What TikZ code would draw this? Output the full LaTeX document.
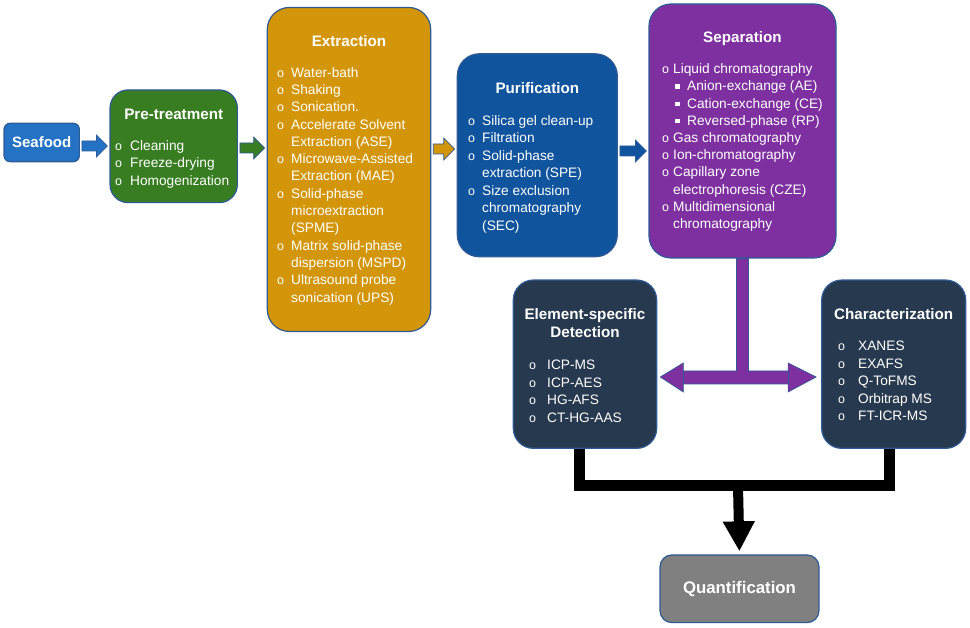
\documentclass[tikz,border=0pt]{standalone}
\usepackage{fontspec}
\setmainfont{Liberation Sans}
\usetikzlibrary{arrows.meta,calc}
\definecolor{seaB}{RGB}{35,114,196}
\definecolor{preG}{RGB}{57,125,34}
\definecolor{extG}{RGB}{211,150,10}
\definecolor{purB}{RGB}{16,84,158}
\definecolor{sepP}{RGB}{126,48,160}
\definecolor{darkS}{RGB}{39,57,78}
\definecolor{quantG}{RGB}{128,128,128}
\definecolor{bord}{RGB}{46,90,150}
\newcommand\bull{{\fontsize{12.5}{12.5}\selectfont o}}
\newcommand\bitem[2][14pt]{\makebox[#1][l]{\bull}#2}
\newcommand\bcont[2][14pt]{\hspace*{#1}#2}
\newcommand\bsub[1]{\hspace*{13pt}\makebox[12pt][l]{\raisebox{1.8pt}{\rule{4.6pt}{4.6pt}}}#1}
\newcommand\harrow[4]{\filldraw[fill=#3, draw=bord, line width=0.7pt] let \p1=(#1.east), \p2=(#2.west) in
  (\x1+2pt,#4pt+5pt) -- (\x2-13pt,#4pt+5pt) -- (\x2-13pt,#4pt+11pt) -- (\x2-2pt,#4pt) --
  (\x2-13pt,#4pt-11pt) -- (\x2-13pt,#4pt-5pt) -- (\x1+2pt,#4pt-5pt) -- cycle;}
\tikzset{
  box/.style={draw=bord, line width=1.2pt, rounded corners=20pt, inner sep=0pt},
  ttl/.style={text=white, inner sep=0pt, font=\bfseries\fontsize{15.2}{17.7}\selectfont, align=center},
  lst/.style={text=white, inner sep=0pt, anchor=north west, align=left, font=\fontsize{13.7}{#1}\selectfont},
  lst/.default=17.4,
  blk/.style={line width=11pt, black, line join=miter},
}
\begin{document}
\begin{tikzpicture}[x=1pt,y=1pt]
\useasboundingbox (0,0) rectangle (970,628);
% boxes
\node[box, rounded corners=6pt, fill=seaB, minimum width=75.3pt, minimum height=38.4pt, text=white, font=\bfseries\fontsize{15}{17}\selectfont] (sea) at (41.7,485.5) {Seafood};
\node[box, rounded corners=18pt, fill=preG, minimum width=127.3pt, minimum height=112.7pt] (pre) at (173.7,481.7) {};
\node[box, rounded corners=22pt, fill=extG, minimum width=163.4pt, minimum height=324pt] (ext) at (349,458.5) {};
\node[box, rounded corners=22pt, fill=purB, minimum width=160pt, minimum height=203pt] (pur) at (537.3,472.7) {};
\node[box, rounded corners=22pt, fill=sepP, minimum width=187pt, minimum height=254pt] (sep) at (742.5,497) {};
\node[box, fill=darkS, minimum width=143.4pt, minimum height=168.3pt] (det) at (585,263.8) {};
\node[box, fill=darkS, minimum width=144pt, minimum height=168.3pt] (char) at (893.7,263.8) {};
\node[box, rounded corners=12pt, fill=quantG, minimum width=159pt, minimum height=67.7pt, text=white, font=\bfseries\fontsize{16.8}{19}\selectfont] (quant) at (739.5,39.2) {Quantification};
% titles
\node[ttl, anchor=base] (pret) at (173.7,508) {Pre-treatment};
\node[ttl, anchor=base] (extt) at (349,581.3) {Extraction};
\node[ttl, anchor=base] (purt) at (537.3,534) {Purification};
\node[ttl, anchor=base] (sept) at (742.5,585.3) {Separation};
\node[ttl, anchor=north] (dett) at (585,320.2) {\rule{0pt}{11.5pt}Element-specific\\Detection};
\node[ttl, anchor=base] (chart) at (893.7,308.5) {Characterization};
% lists
\node[lst=17.5] (prel) at (115,488.5) {\rule{0pt}{10.5pt}\bitem[15pt]{Cleaning}\\ \bitem[15pt]{Freeze-drying}\\ \bitem[15pt]{Homogenization}};
\node[lst=17.3] (extl) at (277,561.5) {\rule{0pt}{10.5pt}\bitem{Water-bath}\\
 \bitem{Shaking}\\
 \bitem{Sonication.}\\
 \bitem{Accelerate Solvent}\\
 \bcont{Extraction (ASE)}\\
 \bitem{Microwave-Assisted}\\
 \bcont{Extraction (MAE)}\\
 \bitem{Solid-phase}\\
 \bcont{microextraction}\\
 \bcont{(SPME)}\\
 \bitem{Matrix solid-phase}\\
 \bcont{dispersion (MSPD)}\\
 \bitem{Ultrasound probe}\\
 \bcont{sonication (UPS)}};
\node[lst=17.5] (purl) at (468,513.5) {\rule{0pt}{10.5pt}\bitem{Silica gel clean-up}\\
 \bitem{Filtration}\\
 \bitem{Solid-phase}\\
 \bcont{extraction (SPE)}\\
 \bitem{Size exclusion}\\
 \bcont{chromatography}\\
 \bcont{(SEC)}};
\node[lst=17.2] (sepl) at (662,565) {\rule{0pt}{10.5pt}\bitem[11pt]{Liquid chromatography}\\
 \bsub{Anion-exchange (AE)}\\
 \bsub{Cation-exchange (CE)}\\
 \bsub{Reversed-phase (RP)}\\
 \bitem[11pt]{Gas chromatography}\\
 \bitem[11pt]{Ion-chromatography}\\
 \bitem[11pt]{Capillary zone}\\
 \bcont[11pt]{electrophoresis (CZE)}\\
 \bitem[11pt]{Multidimensional}\\
 \bcont[11pt]{chromatography}};
\node[lst=17.5] (detl) at (529,269) {\rule{0pt}{10.5pt}\bitem[18pt]{ICP-MS}\\
 \bitem[18pt]{ICP-AES}\\
 \bitem[18pt]{HG-AFS}\\
 \bitem[18pt]{CT-HG-AAS}};
\node[lst=17.5] (charl) at (838,288) {\rule{0pt}{10.5pt}\bitem[20pt]{XANES}\\
 \bitem[20pt]{EXAFS}\\
 \bitem[20pt]{Q-ToFMS}\\
 \bitem[20pt]{Orbitrap MS}\\
 \bitem[20pt]{FT-ICR-MS}};
% block arrows
\harrow{sea}{pre}{seaB}{482}
\harrow{pre}{ext}{preG}{480}
\harrow{ext}{pur}{extG}{479}
\harrow{pur}{sep}{purB}{477}
% purple T connector
\filldraw[fill=sepP, draw=bord, line width=0.7pt] let \p1=(sep.south), \p2=(det.east), \p3=(char.west) in
 (\x1-6pt,\y1) -- (\x1-6pt,257pt) -- (\x2+26pt,257pt) -- (\x2+26pt,265pt) -- (\x2+3pt,251pt) --
 (\x2+26pt,236pt) -- (\x2+26pt,244pt) -- (\x3-33pt,244pt) -- (\x3-33pt,236pt) -- (\x3-5pt,251pt) --
 (\x3-33pt,265pt) -- (\x3-33pt,257pt) -- (\x1+6pt,257pt) -- (\x1+6pt,\y1) -- cycle;
\draw[bord, line width=0.7pt] let \p2=(det.east), \p3=(char.west) in
 (\x2+26pt,244pt) -- (\x2+26pt,257pt) (\x3-33pt,244pt) -- (\x3-33pt,257pt);
% black connector
\coordinate (jn) at (738,142);
\draw[blk] ([xshift=-6pt]det.south) |- (jn) -| ([xshift=-4.5pt]char.south);
\draw[line width=10pt, black, shorten >=3pt, -{Triangle[length=30pt,width=30pt]}] (jn) -- (quant.north);
\end{tikzpicture}
\end{document}
